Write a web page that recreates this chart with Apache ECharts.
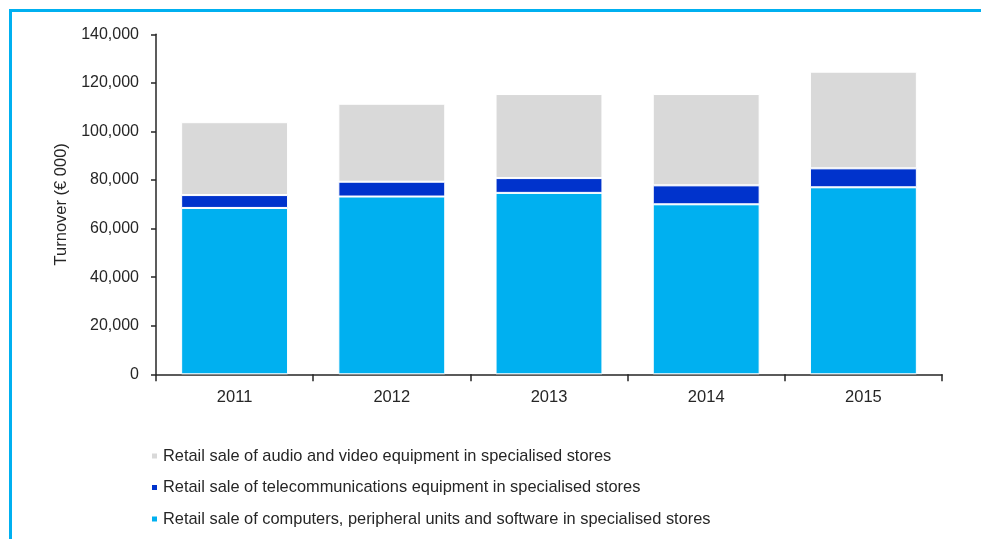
<!DOCTYPE html>
<html>
<head>
<meta charset="utf-8">
<script src="https://cdn.jsdelivr.net/npm/echarts@6/dist/echarts.min.js"></script>
<style>
html,body{margin:0;padding:0;background:#fff;}
#chart{width:981px;height:539px;}
</style>
</head>
<body>
<div id="chart"></div>
<script>
const categories = ['2011', '2012', '2013', '2014', '2015'];
const computers = [68500, 73200, 74700, 70000, 77000];
const telecom = [5300, 6100, 6100, 7800, 7800];
const audioVideo = [30000, 32100, 34600, 37600, 39800];
const yTicks = [0, 20000, 40000, 60000, 80000, 100000, 120000, 140000];

const nameComputers = 'Retail sale of computers, peripheral units and software in specialised stores';
const nameTelecom = 'Retail sale of telecommunications equipment in specialised stores';
const nameAudio = 'Retail sale of audio and video equipment in specialised stores';

const FONT = "'Liberation Sans', Arial, sans-serif";
const chart = echarts.init(document.getElementById('chart'), null, {renderer: 'canvas'});

const fmt = v => v.toLocaleString('en-US');

chart.setOption({
  animation: false,
  backgroundColor: '#ffffff',
  textStyle: {fontFamily: FONT},
  graphic: [{
    type: 'rect',
    shape: {x: 10.5, y: 10.5, width: 1200, height: 800},
    style: {fill: 'none', stroke: '#00B0F0', lineWidth: 3},
    silent: true
  }],
  grid: {left: 156, right: 39, top: 34.3, bottom: 164.7, containLabel: false},
  legend: {
    orient: 'vertical',
    left: 145,
    top: 442,
    itemWidth: 7,
    itemHeight: 7,
    itemGap: 13.5,
    icon: 'rect',
    data: [nameAudio, nameTelecom, nameComputers],
    textStyle: {fontFamily: FONT, fontSize: 16.4, color: '#262626', lineHeight: 18}
  },
  xAxis: {
    type: 'category',
    data: categories,
    boundaryGap: true,
    axisLine: {lineStyle: {color: '#262626', width: 1.5}},
    axisTick: {show: true, length: 7, alignWithLabel: false, lineStyle: {color: '#262626', width: 1.5}},
    axisLabel: {color: '#262626', fontSize: 16.5, fontFamily: FONT, margin: 15}
  },
  yAxis: {
    type: 'value',
    min: 0,
    max: 140000,
    interval: 20000,
    name: 'Turnover (€ 000)',
    nameLocation: 'middle',
    nameGap: 82,
    nameTextStyle: {color: '#262626', fontSize: 16.5, fontFamily: FONT},
    splitLine: {show: false},
    axisLine: {show: true, lineStyle: {color: '#262626', width: 1.5}},
    axisTick: {show: true, length: 5, lineStyle: {color: '#262626', width: 1.5}},
    axisLabel: {color: '#262626', fontSize: 16, fontFamily: FONT, margin: 17,
      formatter: v => yTicks.includes(v) ? fmt(v) : ''}
  },
  series: [
    {name: nameComputers, type: 'bar', stack: 'total', data: computers, barWidth: '68%',
     itemStyle: {color: '#00B0F0', borderColor: '#ffffff', borderWidth: 1}},
    {name: nameTelecom, type: 'bar', stack: 'total', data: telecom, barWidth: '68%',
     itemStyle: {color: '#0033CC', borderColor: '#ffffff', borderWidth: 1}},
    {name: nameAudio, type: 'bar', stack: 'total', data: audioVideo, barWidth: '68%',
     itemStyle: {color: '#D9D9D9', borderColor: '#ffffff', borderWidth: 1}}
  ]
});
</script>
</body>
</html>
